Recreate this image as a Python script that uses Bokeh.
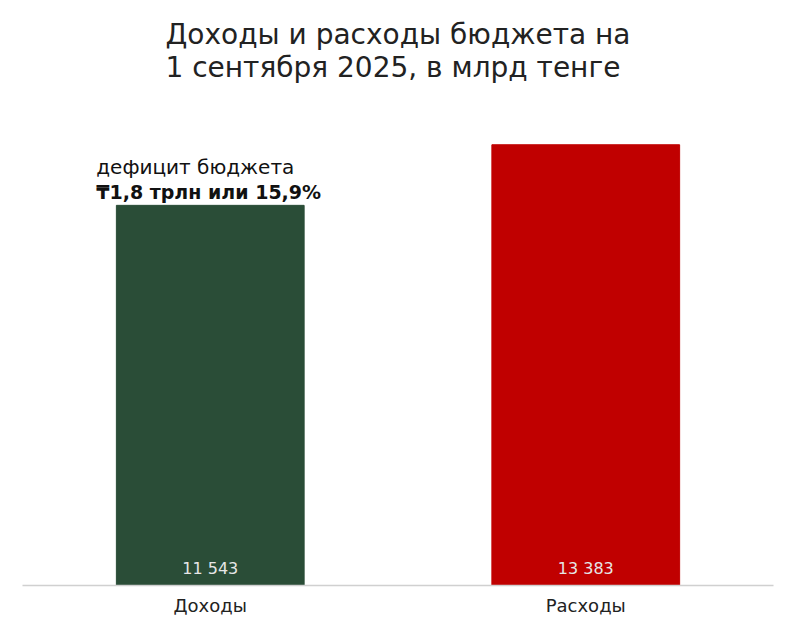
from bokeh.plotting import figure
from bokeh.models import FactorRange, Range1d
from bokeh.core.properties import value
from bokeh.embed import file_html
from bokeh.resources import INLINE

categories = ["Доходы", "Расходы"]
values = [11543, 13383]
value_labels = ["11 543", "13 383"]
colors = ["#2a4d37", "#c00000"]
title_lines = "Доходы и расходы бюджета на\n1 сентября 2025, в млрд тенге"
note_line1 = "дефицит бюджета"
note_line2 = "₸1,8 трлн или 15,9%"

FONT = "DejaVu Sans"

p = figure(x_range=FactorRange(*categories, range_padding=0), y_range=Range1d(0, 15000),
           width=780, height=623, output_backend="svg", toolbar_location=None,
           min_border_left=22, min_border_right=7, min_border_top=91, min_border_bottom=38)

p.title.text = title_lines
p.title.align = "center"
p.title.text_font = FONT
p.title.text_font_size = "28px"
p.title.text_font_style = "normal"
p.title.text_color = "#222222"
p.title.standoff = 15

p.vbar(x=categories, top=values, width=0.5, color=colors)

p.text(x=categories, y=[0] * len(categories), text=value_labels, y_offset=-8,
       text_align="center", text_baseline="bottom", text_font=value(FONT),
       text_font_size="16px", text_color="#e6e6e6")

p.text(x=[categories[0]], y=[values[0]], text=[note_line1], x_offset=-114, y_offset=-38,
       text_align="left", text_baseline="alphabetic", text_font=value(FONT),
       text_font_size="20px", text_color="#111111")
p.text(x=[categories[0]], y=[values[0]], text=[note_line2], x_offset=-114, y_offset=-13,
       text_align="left", text_baseline="alphabetic", text_font=value(FONT),
       text_font_size="19px", text_font_style="bold", text_color="#111111")

p.yaxis.visible = False
p.xgrid.grid_line_color = None
p.ygrid.grid_line_color = None
p.outline_line_color = None
p.xaxis.axis_line_color = "#d0d0d0"
p.xaxis.axis_line_width = 1.5
p.xaxis.major_tick_line_color = None
p.xaxis.minor_tick_line_color = None
p.xaxis.major_label_text_font = FONT
p.xaxis.major_label_text_font_size = "18px"
p.xaxis.major_label_text_color = "#222222"
p.xaxis.major_label_standoff = 3

open("out.html", "w").write(file_html(p, INLINE))
